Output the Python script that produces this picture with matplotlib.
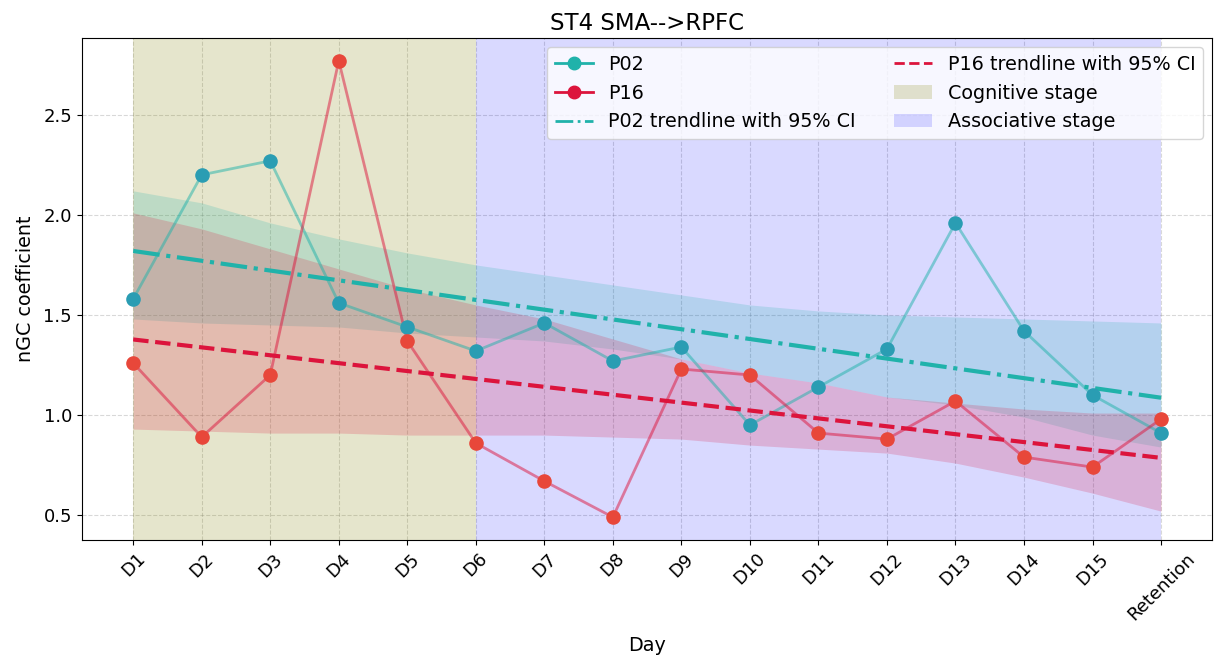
import matplotlib
matplotlib.use("Agg")
import matplotlib.pyplot as plt
import numpy as np
from matplotlib.lines import Line2D
from matplotlib.patches import Patch

days = ["D1", "D2", "D3", "D4", "D5", "D6", "D7", "D8", "D9", "D10",
        "D11", "D12", "D13", "D14", "D15", "Retention"]
p02 = [1.58, 2.20, 2.27, 1.56, 1.44, 1.32, 1.46, 1.27, 1.34, 0.95,
       1.14, 1.33, 1.96, 1.42, 1.10, 0.91]
p16 = [1.26, 0.89, 1.20, 2.77, 1.37, 0.86, 0.67, 0.49, 1.23, 1.20,
       0.91, 0.88, 1.07, 0.79, 0.74, 0.98]

# 95% CI bounds of the trendlines (bootstrap band)
p02_ci_lo = [1.48, 1.46, 1.45, 1.44, 1.41, 1.39, 1.37, 1.33, 1.28, 1.21,
             1.16, 1.09, 1.05, 0.99, 0.90, 0.84]
p02_ci_hi = [2.12, 2.06, 1.96, 1.88, 1.81, 1.75, 1.70, 1.65, 1.60, 1.55,
             1.52, 1.50, 1.49, 1.48, 1.47, 1.46]
p16_ci_lo = [0.93, 0.92, 0.91, 0.91, 0.90, 0.90, 0.90, 0.89, 0.88, 0.85,
             0.83, 0.81, 0.76, 0.69, 0.61, 0.52]
p16_ci_hi = [2.01, 1.93, 1.83, 1.73, 1.63, 1.55, 1.48, 1.38, 1.28, 1.21,
             1.16, 1.09, 1.06, 1.03, 1.01, 1.01]

cognitive = ("D1", "D6")
associative = ("D6", "Retention")

c02 = "lightseagreen"
c16 = "crimson"

x = np.arange(len(days))


def trend(y):
    b, a = np.polyfit(x, y, 1)
    return a + b * x


fig = plt.figure(figsize=(12.21, 6.65), dpi=100)
ax = fig.add_axes([0.067, 0.188, 0.926, 0.755])

ax.axvspan(days.index(cognitive[0]), days.index(cognitive[1]), color="olive", alpha=0.2, lw=0)
ax.axvspan(days.index(associative[0]), days.index(associative[1]), color="blue", alpha=0.15, lw=0)

ax.fill_between(x, p02_ci_lo, p02_ci_hi, color=c02, alpha=0.2, lw=0)
ax.fill_between(x, p16_ci_lo, p16_ci_hi, color=c16, alpha=0.2, lw=0)

ax.plot(x, p02, color=c02, alpha=0.5, lw=2)
ax.plot(x, p16, color=c16, alpha=0.5, lw=2)
ax.scatter(x, p02, s=90, color="#2a9db3", zorder=3)
ax.scatter(x, p16, s=90, color="#e8473a", zorder=3)

ax.plot(x, trend(p02), color=c02, lw=3, ls="-.")
ax.plot(x, trend(p16), color=c16, lw=3, ls="--")

ax.set_xticks(x)
ax.set_xticklabels(days, rotation=45, fontsize=13)
ax.tick_params(axis="y", labelsize=13)
ax.set_yticks([0.5, 1.0, 1.5, 2.0, 2.5])
ax.grid(True, ls="--", color="gray", alpha=0.3)
ax.set_axisbelow(True)
ax.set_title("ST4 SMA-->RPFC", fontsize=16.5)
ax.set_xlabel("Day", fontsize=13.75, labelpad=9)
ax.set_ylabel("nGC coefficient", fontsize=13.75, labelpad=6)

handles = [
    Line2D([], [], color=c02, marker="o", markersize=9, lw=2, label="P02"),
    Line2D([], [], color=c16, marker="o", markersize=9, lw=2, label="P16"),
    Line2D([], [], color=c02, ls="-.", lw=2, label="P02 trendline with 95% CI"),
    Line2D([], [], color=c16, ls="--", lw=2, label="P16 trendline with 95% CI"),
    Patch(color="olive", alpha=0.2, lw=0, label="Cognitive stage"),
    Patch(color="blue", alpha=0.15, lw=0, label="Associative stage"),
]
ax.legend(handles=handles, ncol=2, loc="upper right", fontsize=13.75)

fig.savefig("out.png", dpi=100)
